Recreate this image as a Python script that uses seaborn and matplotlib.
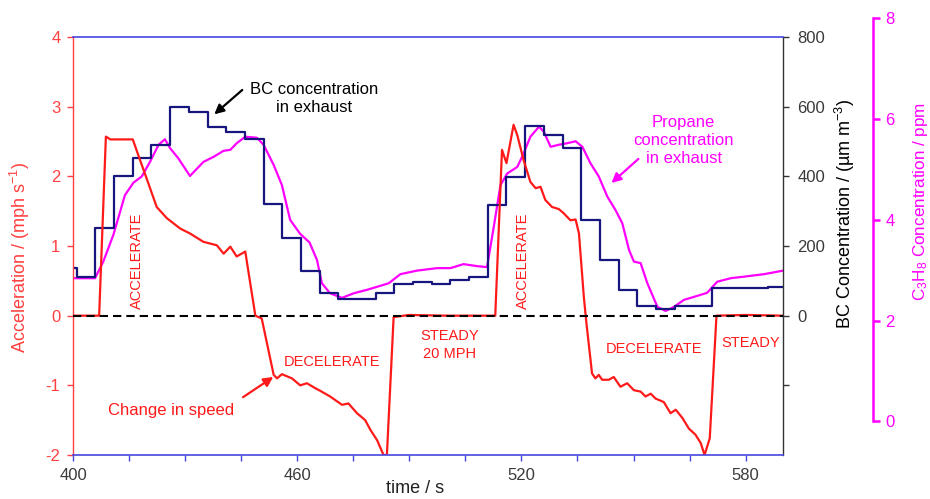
import numpy as np
import pandas as pd
import matplotlib
matplotlib.use("Agg")
import matplotlib.pyplot as plt
from matplotlib.ticker import FixedLocator, FixedFormatter
import seaborn as sns

# ---------------- data ----------------
acc_time = [400, 407.0, 408.8, 410.0, 416.0, 417.5, 419.7, 422.4, 425.1, 428.7, 431.3,
            434.9, 438.5, 440.3, 442.1, 443.8, 446.1, 448.8, 450.5, 453.7, 454.6, 455.9,
            458.6, 460.8, 462.6, 464.8, 466.2, 467.5, 468.8, 472.0, 473.7, 476.0, 478.2,
            479.6, 481.4, 483.1, 484.0, 485.8, 490.0, 500.0, 513.0, 514.8, 516.0, 517.9,
            518.9, 520.6, 522.4, 523.8, 525.1, 526.4, 528.2, 530.0, 531.3, 533.1, 534.5,
            535.4, 536.7, 537.4, 538.9, 539.8, 540.7, 541.6, 543.4, 544.7, 546.5, 548.3,
            550.1, 551.9, 553.2, 554.6, 555.9, 558.1, 559.9, 561.3, 563.1, 564.8, 566.6,
            568.0, 569.0, 570.4, 572.2, 580.0, 590.0]
acc_value = [0, 0, 2.57, 2.53, 2.53, 2.30, 1.97, 1.56, 1.40, 1.25, 1.18,
             1.06, 1.01, 0.89, 0.99, 0.85, 0.92, 0.0, -0.04, -0.85, -0.90, -0.84,
             -0.90, -1.00, -0.97, -1.04, -1.08, -1.12, -1.16, -1.28, -1.26, -1.40, -1.50,
             -1.64, -1.79, -2.0, -2.0, -0.02, 0.01, 0.0, 0.0, 2.38, 2.19, 2.74,
             2.59, 2.23, 1.92, 1.83, 1.85, 1.66, 1.56, 1.53, 1.47, 1.37, 1.38,
             1.18, 0.27, -0.11, -0.83, -0.90, -0.85, -0.92, -0.92, -0.88, -1.02, -0.97,
             -1.07, -1.09, -1.16, -1.12, -1.19, -1.24, -1.40, -1.35, -1.47, -1.62, -1.71,
             -1.83, -2.00, -1.76, 0.0, 0.01, 0.0]

bc_time = [400, 401, 406, 411, 416, 421, 426, 431, 436, 441, 446, 451, 456, 461, 466,
           471, 476, 481, 486, 491, 496, 501, 506, 511, 516, 521, 526, 531, 536, 541,
           546, 551, 556, 561, 566, 571, 576, 581, 586, 590]
bc_value = [138, 112, 252, 402, 454, 490, 600, 584, 542, 528, 507, 321, 222, 128, 64,
            47, 47, 66, 91, 97, 91, 102, 110, 317, 399, 544, 518, 480, 274, 160,
            75, 28, 18, 28, 28, 80, 80, 80, 83, 83]

prop_time = [400, 405.9, 408.1, 410.8, 413.9, 416.2, 418.4, 420.6, 422.9, 424.6, 426.0,
             428.2, 431.3, 434.9, 437.6, 440.3, 442.1, 443.8, 446.1, 449.2, 451.0, 453.7,
             455.9, 458.1, 460.8, 463.3, 465.3, 466.6, 468.8, 472.0, 475.1, 478.7, 482.3,
             484.5, 487.6, 492.0, 497.4, 501.0, 504.5, 508.1, 510.8, 512.6, 514.4, 516.2,
             518.9, 520.6, 522.4, 524.7, 526.0, 527.8, 530.0, 532.2, 534.5, 536.3, 538.5,
             540.7, 543.0, 545.2, 547.0, 548.8, 550.1, 551.9, 553.7, 556.4, 558.6, 560.8,
             563.5, 567.1, 569.7, 572.4, 576.0, 579.5, 584.9, 590.0]
prop_value = [2.84, 2.84, 3.17, 3.70, 4.49, 4.74, 4.86, 5.15, 5.49, 5.60, 5.42,
              5.22, 4.87, 5.15, 5.25, 5.37, 5.39, 5.52, 5.65, 5.63, 5.49, 5.09,
              4.69, 4.00, 3.72, 3.55, 3.20, 2.74, 2.54, 2.45, 2.54, 2.61, 2.69,
              2.74, 2.92, 2.99, 3.04, 3.04, 3.12, 3.08, 3.06, 3.86, 4.69, 4.92,
              5.05, 5.32, 5.65, 5.85, 5.75, 5.45, 5.49, 5.52, 5.56, 5.45, 5.12,
              4.86, 4.46, 4.19, 3.93, 3.40, 3.17, 3.14, 2.74, 2.27, 2.19, 2.27,
              2.41, 2.49, 2.55, 2.77, 2.84, 2.87, 2.92, 2.99]

x_major_ticks = [400, 460, 520, 580]
x_minor_ticks = [415, 430, 445, 475, 490, 505, 535, 550, 565]
acc_ticks = [-2, -1, 0, 1, 2, 3, 4]
bc_ticks = [-200, 0, 200, 400, 600, 800]
bc_tick_labels = ["", "0", "200", "400", "600", "800"]
prop_ticks = [0, 2, 4, 6, 8]

# ---------------- style ----------------
sns.set_style("white")
plt.rcParams["font.family"] = ["Liberation Sans", "DejaVu Sans"]
plt.rcParams["mathtext.fontset"] = "custom"
plt.rcParams["mathtext.rm"] = "Liberation Sans"
plt.rcParams["mathtext.it"] = "Liberation Sans:italic"
plt.rcParams["axes.unicode_minus"] = False

RED = "#ff1a1a"
RED_AX = "#ff4040"
NAVY = "#16167e"
MAG = "#ff00ff"
BLUE = "#4646e0"
GRAY = "#333333"

W, H = 930, 499
fig = plt.figure(figsize=(W / 100, H / 100), dpi=100)
fig.patch.set_facecolor("white")

L, R, T, B = 73, 783, 37, 455
pos_main = [L / W, 1 - B / H, (R - L) / W, (B - T) / H]
PT = 15  # top pixel of propane axis frame
pos_prop = [L / W, 1 - B / H, (R - L) / W, (B - PT) / H]

ax = fig.add_axes(pos_main)
bc_ax = ax.twinx()
prop_ax = fig.add_axes(pos_prop, sharex=ax)

prop_ax.set_zorder(1)
bc_ax.set_zorder(2)
ax.set_zorder(3)
for a in (ax, bc_ax, prop_ax):
    a.patch.set_visible(False)

acc_df = pd.DataFrame({"time": acc_time, "acc": acc_value})
bc_df = pd.DataFrame({"time": bc_time, "bc": bc_value})
prop_df = pd.DataFrame({"time": prop_time, "prop": prop_value})

sns.lineplot(data=prop_df, x="time", y="prop", ax=prop_ax, color=MAG, lw=1.6,
             estimator=None, sort=False)
sns.lineplot(data=bc_df, x="time", y="bc", ax=bc_ax, color=NAVY, lw=1.6,
             estimator=None, sort=False, drawstyle="steps-post")
sns.lineplot(data=acc_df, x="time", y="acc", ax=ax, color=RED, lw=1.6,
             estimator=None, sort=False)
ax.axhline(0, color="black", lw=1.5, dashes=(4, 2.4), zorder=5)

# ---------------- main axis (acceleration) ----------------
ax.set_xlim(400, 590)
ax.set_ylim(-2, 4)
ax.xaxis.set_major_locator(FixedLocator(x_major_ticks))
ax.xaxis.set_minor_locator(FixedLocator(x_minor_ticks))
ax.set_yticks(acc_ticks)
ax.tick_params(axis="x", which="both", direction="out", length=4.5, width=1,
               color=BLUE, labelcolor="#3a3a3a", labelsize=12, pad=5, bottom=True)
ax.tick_params(axis="y", direction="out", length=4, width=1, color=RED_AX,
               labelcolor=RED_AX, labelsize=12, pad=5, left=True)
for s in ("top", "bottom"):
    ax.spines[s].set_color(BLUE)
    ax.spines[s].set_linewidth(1.2)
ax.spines["left"].set_color(RED_AX)
ax.spines["left"].set_linewidth(1.0)
ax.spines["right"].set_visible(False)
ax.set_xlabel("time / s", fontsize=13, color="#222222")
ax.xaxis.set_label_coords((415 - L) / (R - L), -(480 - B) / (B - T), transform=ax.transAxes)
ax.xaxis.label.set_va("top")
ax.set_ylabel(r"Acceleration / (mph s$^{-1}$)", fontsize=13, color=RED_AX)
ax.yaxis.set_label_coords((32 - L) / (R - L), (B - 257) / (B - T))

# ---------------- BC axis ----------------
bc_ax.set_ylim(-400, 800)
bc_ax.yaxis.set_major_locator(FixedLocator(bc_ticks))
bc_ax.yaxis.set_major_formatter(FixedFormatter(bc_tick_labels))
bc_ax.tick_params(axis="y", direction="out", length=4.5, width=1, color=GRAY,
                  labelcolor="#3a3a3a", labelsize=12, pad=6, right=True)
for s in ("left", "top", "bottom"):
    bc_ax.spines[s].set_visible(False)
bc_ax.spines["right"].set_color(GRAY)
bc_ax.spines["right"].set_linewidth(1.0)
bc_ax.set_ylabel(r"BC Concentration / (µm m$^{-3}$)", fontsize=13, color="black")
bc_ax.yaxis.set_label_coords((833 - L) / (R - L), (B - 214) / (B - T))

# ---------------- propane axis ----------------
px_per_unit = 50.35
y4 = 219.8
prop_ax.set_ylim(4 - (B - y4) / px_per_unit, 4 + (y4 - PT) / px_per_unit)
prop_ax.set_yticks(prop_ticks)
prop_ax.yaxis.tick_right()
prop_ax.yaxis.set_label_position("right")
prop_ax.tick_params(axis="y", direction="out", length=5, width=1.8, color=MAG,
                    labelcolor=MAG, labelsize=12, pad=4, right=True, left=False)
prop_ax.tick_params(axis="x", which="both", bottom=False, labelbottom=False)
for s in ("left", "top", "bottom"):
    prop_ax.spines[s].set_visible(False)
prop_ax.spines["right"].set_position(("axes", (873 - L) / (R - L)))
prop_ax.spines["right"].set_color(MAG)
prop_ax.spines["right"].set_linewidth(1.8)
prop_ax.spines["right"].set_bounds(0, 8)
prop_ax.set_xlabel("")
prop_ax.set_ylabel(r"C$_3$H$_8$ Concentration / ppm", fontsize=12.3, color=MAG)
prop_ax.yaxis.set_label_coords((911 - L) / (R - L), (B - 201) / (B - PT))

# ---------------- annotations (data coords of main axis) ----------------
ax.annotate("", xy=(437.8, 2.89), xytext=(445.3, 3.24),
            arrowprops=dict(arrowstyle="-|>", color="black", lw=1.6, mutation_scale=14,
                            shrinkA=0, shrinkB=0), annotation_clip=False)
ax.text(464.6, 3.12, "BC concentration\nin exhaust", ha="center", va="center",
        fontsize=12, color="black", linespacing=1.25)

ax.annotate("", xy=(544.1, 1.905), xytext=(551.3, 2.25),
            arrowprops=dict(arrowstyle="-|>", color=MAG, lw=1.6, mutation_scale=14,
                            shrinkA=0, shrinkB=0))
ax.text(563.4, 2.52, "Propane\nconcentration\nin exhaust", ha="center", va="center",
        fontsize=12, color=MAG, linespacing=1.25)

ax.annotate("", xy=(453.6, -0.88), xytext=(445.5, -1.17),
            arrowprops=dict(arrowstyle="-|>", color=RED, lw=1.6, mutation_scale=14,
                            shrinkA=0, shrinkB=0))
ax.text(426.3, -1.355, "Change in speed", ha="center", va="center",
        fontsize=12, color=RED)

state_kw = dict(fontsize=10.5, color=RED, ha="center", va="center")
ax.text(417.1, 0.784, "ACCELERATE", rotation=90, **state_kw)
ax.text(520.5, 0.784, "ACCELERATE", rotation=90, **state_kw)
ax.text(469.4, -0.666, "DECELERATE", **state_kw)
ax.text(555.4, -0.479, "DECELERATE", **state_kw)
ax.text(500.7, -0.42, "STEADY\n20 MPH", linespacing=1.3, **state_kw)
ax.text(581.3, -0.393, "STEADY", **state_kw)

fig.savefig("out.png", dpi=100)
